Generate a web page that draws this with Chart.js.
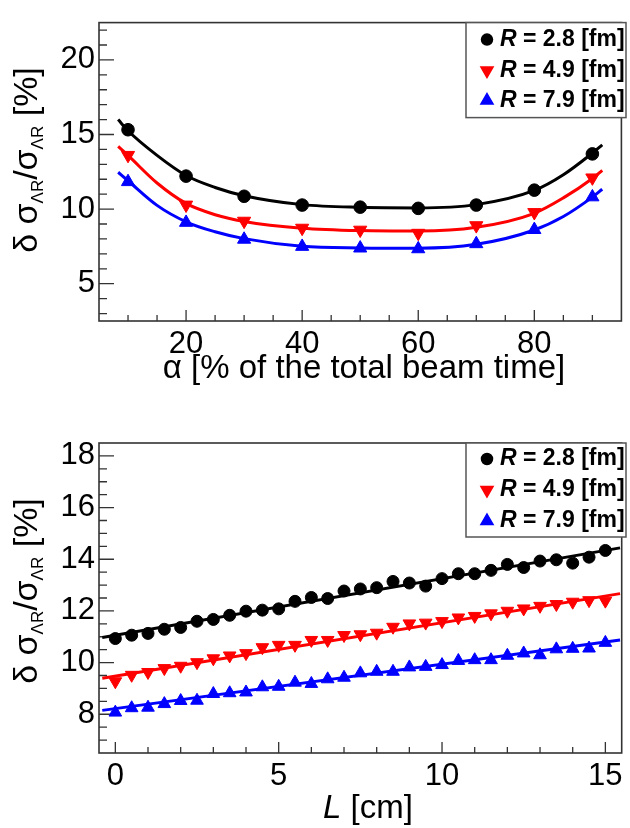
<!DOCTYPE html>
<html>
<head>
<meta charset="utf-8">
<script src="https://cdn.jsdelivr.net/npm/chart.js@4.4.1/dist/chart.umd.min.js"></script>
<style>
  html, body { margin: 0; padding: 0; background: #fff; }
  #wrap { position: relative; width: 630px; height: 828px; }
  .pane { position: absolute; left: 0; width: 630px; height: 414px; }
</style>
</head>
<body>
<div id="wrap">
  <div class="pane" style="top:0"><canvas id="topChart" width="630" height="414"></canvas></div>
  <div class="pane" style="top:414px"><canvas id="botChart" width="630" height="414"></canvas></div>
</div>
<script>
/* --- Data: top panel (alpha scan) --- */
const alphaVals = [10, 20, 30, 40, 50, 60, 70, 80, 90];
const r28Alpha = [15.32, 12.21, 10.86, 10.27, 10.13, 10.05, 10.27, 11.27, 13.70];
const r49Alpha = [13.61, 10.28, 9.20, 8.73, 8.60, 8.39, 8.90, 9.78, 12.10];
const r79Alpha = [11.83, 9.10, 7.97, 7.49, 7.38, 7.33, 7.67, 8.62, 10.81];

// fit curves
const alphaFitX = [8.3, 10, 15, 20, 25, 30, 40, 50, 60, 70, 80, 85, 90, 91.7];
const fit28Alpha = [16.0, 15.25, 13.6, 12.25, 11.45, 10.9, 10.3, 10.12, 10.08, 10.3, 11.25, 12.3, 13.75, 14.3];
const fit49Alpha = [14.2, 13.6, 11.75, 10.38, 9.62, 9.17, 8.72, 8.56, 8.53, 8.78, 9.72, 10.75, 12.05, 12.6];
const fit79Alpha = [12.47, 11.9, 10.25, 9.15, 8.48, 8.02, 7.51, 7.4, 7.38, 7.64, 8.6, 9.5, 10.8, 11.33];

const alphaTicks = [20, 40, 60, 80];
const alphaYTicks = [5, 10, 15, 20];

/* --- Data: bottom panel (length scan) --- */
const lengthVals = [0, 0.5, 1, 1.5, 2, 2.5, 3, 3.5, 4, 4.5, 5, 5.5, 6, 6.5, 7, 7.5,
                    8, 8.5, 9, 9.5, 10, 10.5, 11, 11.5, 12, 12.5, 13, 13.5, 14, 14.5, 15];
const r28Len = [10.93, 11.06, 11.13, 11.29, 11.36, 11.60, 11.67, 11.83, 11.99, 12.03, 12.08,
                12.37, 12.52, 12.48, 12.77, 12.85, 12.90, 13.14, 13.08, 12.96, 13.25, 13.44,
                13.44, 13.57, 13.80, 13.68, 13.93, 13.98, 13.85, 14.08, 14.34];
const r49Len = [9.27, 9.52, 9.63, 9.78, 9.87, 10.01, 10.16, 10.27, 10.36, 10.59, 10.68,
                10.68, 10.87, 10.87, 11.06, 11.09, 11.15, 11.38, 11.51, 11.54, 11.60, 11.74,
                11.80, 11.90, 12.00, 12.09, 12.19, 12.26, 12.35, 12.41, 12.39];
const r79Len = [8.07, 8.24, 8.26, 8.40, 8.52, 8.53, 8.79, 8.82, 8.85, 9.05, 9.07,
                9.23, 9.18, 9.36, 9.42, 9.59, 9.65, 9.65, 9.82, 9.84, 9.91, 10.07,
                10.10, 10.10, 10.27, 10.36, 10.29, 10.52, 10.54, 10.55, 10.77];

const lenFitX = [-0.4, 15.45];
const fit28Len = [10.97, 14.44];
const fit49Len = [9.39, 12.67];
const fit79Len = [8.15, 10.87];

const lenTicks = [0, 5, 10, 15];
const lenYTicks = [8, 10, 12, 14, 16, 18];

const seriesLabels = ['2.8', '4.9', '7.9'];
const seriesColors = ['#000000', '#ff0000', '#0000ff'];
const seriesStyles = ['circle', 'triangle', 'triangle'];
const seriesRot = [0, 180, 0];

const FONT = '"Liberation Sans", Arial, Helvetica, sans-serif';

/* --- helpers --- */
function pairs(xs, ys) {
  return xs.map((x, i) => ({ x: x, y: ys[i] }));
}

function stepList(from, to, step) {
  const out = [];
  for (let v = from; v <= to + 1e-9; v += step) out.push(Math.round(v * 1000) / 1000);
  return out;
}

/* --- ROOT-like frame, inward ticks, legend and axis titles --- */
const rootFrame = {
  id: 'rootFrame',
  beforeDatasetsDraw(chart, args, o) {
    const { ctx, chartArea: a, scales } = chart;
    ctx.save();
    ctx.strokeStyle = '#333';
    ctx.lineWidth = 1.3;
    ctx.beginPath();
    o.xMinor.forEach(v => {
      const px = scales.x.getPixelForValue(v);
      const len = o.xMajor.includes(v) ? o.xMajorLen : o.xMinorLen;
      ctx.moveTo(px, a.bottom); ctx.lineTo(px, a.bottom - len);
    });
    o.yMinor.forEach(v => {
      const py = scales.y.getPixelForValue(v);
      const len = o.yMajor.includes(v) ? o.yMajorLen : o.yMinorLen;
      ctx.moveTo(a.left, py); ctx.lineTo(a.left + len, py);
    });
    ctx.stroke();
    ctx.lineWidth = 1.6;
    ctx.strokeRect(a.left, a.top, a.right - a.left, a.bottom - a.top);
    ctx.restore();
  },
  afterDatasetsDraw(chart, args, o) {
    const { ctx, chartArea: a } = chart;
    const lg = o.legend;
    ctx.save();
    ctx.fillStyle = '#fff';
    ctx.fillRect(lg.left, a.top, lg.right - lg.left, lg.height);
    ctx.strokeStyle = '#555';
    ctx.lineWidth = 1.5;
    ctx.strokeRect(lg.left, a.top, lg.right - lg.left, lg.height);
    seriesLabels.forEach((lab, i) => {
      const y = a.top + lg.rows[i];
      ctx.fillStyle = seriesColors[i];
      ctx.strokeStyle = seriesColors[i];
      Chart.helpers.drawPoint(ctx, {
        pointStyle: seriesStyles[i], rotation: seriesRot[i],
        radius: seriesStyles[i] === 'circle' ? 5.5 : 7, borderWidth: 1
      }, lg.markX, y);
      ctx.fillStyle = '#000';
      ctx.textBaseline = 'middle';
      ctx.textAlign = 'left';
      ctx.font = 'italic bold 23px ' + FONT;
      ctx.fillText('R', lg.textX, y);
      const w = ctx.measureText('R').width;
      ctx.font = 'bold 23px ' + FONT;
      ctx.fillText(' = ' + lab + ' [fm]', lg.textX + w, y);
    });
    ctx.restore();
  },
  afterDraw(chart, args, o) {
    const ctx = chart.ctx;
    // x title
    ctx.save();
    ctx.fillStyle = '#000';
    ctx.textBaseline = 'alphabetic';
    ctx.textAlign = 'left';
    let total = 0;
    o.xTitle.parts.forEach(p => { ctx.font = p.font; total += ctx.measureText(p.t).width; });
    let x = o.xTitle.cx - total / 2;
    o.xTitle.parts.forEach(p => {
      ctx.font = p.font;
      ctx.fillText(p.t, x, o.xTitle.base);
      x += ctx.measureText(p.t).width;
    });
    ctx.restore();

    // y title, rotated, with subscripts
    ctx.save();
    ctx.translate(o.yTitle.base, o.yTitle.cy);
    ctx.rotate(-Math.PI / 2);
    ctx.fillStyle = '#000';
    ctx.textBaseline = 'alphabetic';
    ctx.textAlign = 'left';
    const big = 'normal 34px ' + FONT;
    const small = 'normal 17px ' + FONT;
    const parts = [
      { t: 'δ σ', f: big, dy: 0 },
      { t: 'ΛR', f: small, dy: 6 },
      { t: '/σ', f: big, dy: 0 },
      { t: 'ΛR', f: small, dy: 6 },
      { t: ' [%]', f: big, dy: 0 }
    ];
    let tw = 0;
    parts.forEach(p => { ctx.font = p.f; tw += ctx.measureText(p.t).width; });
    let px = -tw / 2;
    parts.forEach(p => {
      ctx.font = p.f;
      ctx.fillText(p.t, px, p.dy);
      px += ctx.measureText(p.t).width;
    });
    ctx.restore();
  }
};

function makeDatasets(xPts, ys, fitX, fits, radius, tension) {
  const ds = [];
  ys.forEach((arr, i) => {
    ds.push({
      data: pairs(xPts, arr),
      showLine: false,
      pointStyle: seriesStyles[i],
      rotation: seriesRot[i],
      pointRadius: seriesStyles[i] === 'circle' ? radius : radius + 1.3,
      backgroundColor: seriesColors[i],
      borderColor: seriesColors[i],
      borderWidth: 1,
      order: 0
    });
  });
  fits.forEach((arr, i) => {
    ds.push({
      data: pairs(fitX, arr),
      showLine: true,
      pointRadius: 0,
      borderColor: seriesColors[i],
      borderWidth: 3,
      cubicInterpolationMode: tension ? 'monotone' : 'default',
      tension: 0,
      order: 1
    });
  });
  return ds;
}

function makeScales(xr, yr, xTicks, yTicks, xHeight, yWidth) {
  return {
    x: {
      type: 'linear', min: xr[0], max: xr[1],
      grid: { display: false, drawTicks: false },
      border: { display: false },
      afterBuildTicks: s => { s.ticks = xTicks.map(v => ({ value: v })); },
      afterFit: s => { s.height = xHeight; },
      ticks: { color: '#000', padding: 5, font: { family: FONT, size: 31 }, maxRotation: 0 }
    },
    y: {
      type: 'linear', min: yr[0], max: yr[1],
      grid: { display: false, drawTicks: false },
      border: { display: false },
      afterBuildTicks: s => { s.ticks = yTicks.map(v => ({ value: v })); },
      afterFit: s => { s.width = yWidth; },
      ticks: { color: '#000', padding: 4, font: { family: FONT, size: 31 } }
    }
  };
}

/* --- Top chart --- */
new Chart(document.getElementById('topChart'), {
  type: 'scatter',
  data: { datasets: makeDatasets(alphaVals, [r28Alpha, r49Alpha, r79Alpha], alphaFitX,
                                 [fit28Alpha, fit49Alpha, fit79Alpha], 6.3, true) },
  options: {
    responsive: false,
    animation: false,
    layout: { padding: { left: 0, right: 1, top: 10, bottom: 0 } },
    scales: makeScales([5, 95], [2.5, 22.5], alphaTicks, alphaYTicks, 93, 99),
    plugins: {
      legend: { display: false },
      tooltip: { enabled: false },
      rootFrame: {
        xMajor: alphaTicks, xMinor: stepList(10, 90, 5), xMajorLen: 11, xMinorLen: 6,
        yMajor: alphaYTicks, yMinor: stepList(3, 22, 1), yMajorLen: 15, yMinorLen: 8,
        legend: { left: 466, right: 626, height: 95, rows: [17, 48, 78], markX: 487, textX: 500 },
        xTitle: { cx: 364, base: 378, parts: [{ t: 'α [% of the total beam time]', font: '33px ' + FONT }] },
        yTitle: { base: 37, cy: 160 }
      }
    }
  },
  plugins: [rootFrame]
});

/* --- Bottom chart --- */
new Chart(document.getElementById('botChart'), {
  type: 'scatter',
  data: { datasets: makeDatasets(lengthVals, [r28Len, r49Len, r79Len], lenFitX,
                                 [fit28Len, fit49Len, fit79Len], 6.0, false) },
  options: {
    responsive: false,
    animation: false,
    layout: { padding: { left: 0, right: 1, top: 29, bottom: 0 } },
    scales: makeScales([-0.5, 15.5], [6.5, 18.5], lenTicks, lenYTicks, 75, 99),
    plugins: {
      legend: { display: false },
      tooltip: { enabled: false },
      rootFrame: {
        xMajor: lenTicks, xMinor: stepList(0, 15, 1), xMajorLen: 11, xMinorLen: 6,
        yMajor: lenYTicks, yMinor: stepList(7, 18, 0.5), yMajorLen: 15, yMinorLen: 8,
        legend: { left: 466, right: 626, height: 94, rows: [16, 47, 78], markX: 487, textX: 500 },
        xTitle: { cx: 368, base: 404, parts: [
          { t: 'L', font: 'italic 33px ' + FONT },
          { t: ' [cm]', font: '33px ' + FONT }
        ] },
        yTitle: { base: 37, cy: 177 }
      }
    }
  },
  plugins: [rootFrame]
});
</script>
</body>
</html>
